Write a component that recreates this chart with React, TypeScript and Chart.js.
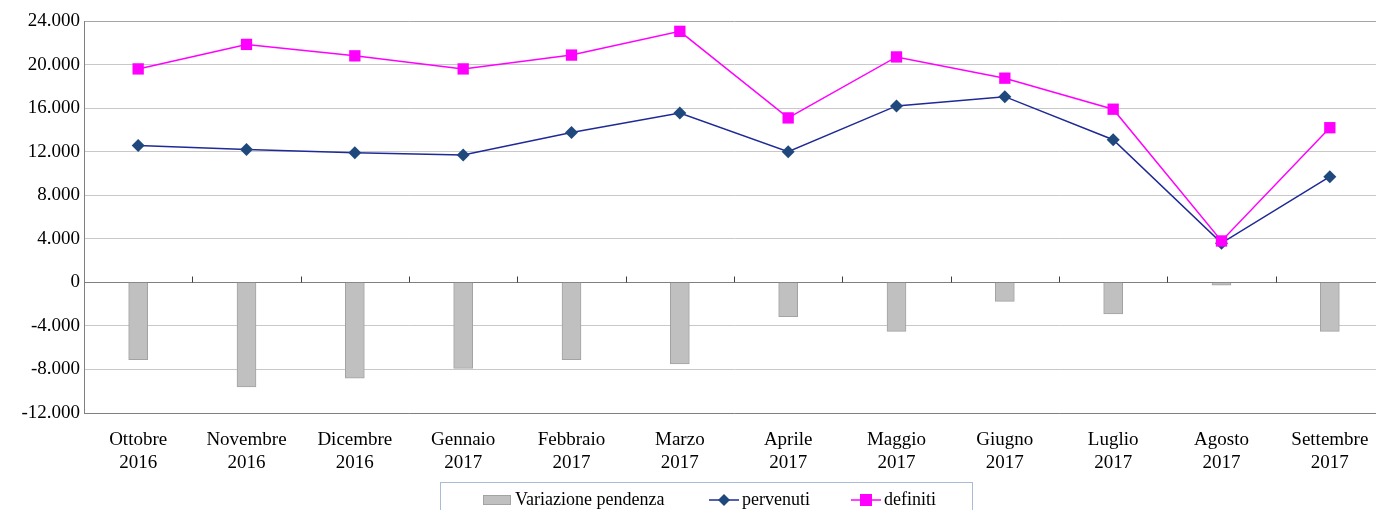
import { useEffect, useRef } from "react";
import { Chart, registerables } from "chart.js";

Chart.register(...registerables);

const FONT = "'Liberation Serif', 'Times New Roman', serif";

const months = ["Ottobre", "Novembre", "Dicembre", "Gennaio", "Febbraio", "Marzo", "Aprile", "Maggio", "Giugno", "Luglio", "Agosto", "Settembre"];
const years = ["2016", "2016", "2016", "2017", "2017", "2017", "2017", "2017", "2017", "2017", "2017", "2017"];

const variazionePendenza = [-7100, -9600, -8800, -7900, -7100, -7500, -3150, -4500, -1750, -2900, -250, -4500];
const pervenuti = [12570, 12200, 11900, 11700, 13750, 15550, 12000, 16200, 17050, 13100, 3600, 9700];
const definiti = [19600, 21850, 20800, 19600, 20870, 23050, 15100, 20700, 18750, 15900, 3800, 14200];

const yMin = -12000;
const yMax = 24000;
const yStep = 4000;

const seriesNames = ["Variazione pendenza", "pervenuti", "definiti"];

function fmt(v: number): string {
  const neg = v < 0;
  const s = Math.abs(Math.round(v)).toString().replace(/\B(?=(\d{3})+(?!\d))/g, ".");
  return (neg ? "-" : "") + s;
}

export default function App() {
  const ref = useRef<HTMLCanvasElement>(null);

  useEffect(() => {
    const canvas = ref.current!;

    const zeroTicks = {
      id: "zeroTicks",
      afterDatasetsDraw(chart: any) {
        const xs = chart.scales.x;
        const ys = chart.scales.y;
        const ctx = chart.ctx;
        const y0 = Math.round(ys.getPixelForValue(0)) + 0.5;
        const half = (xs.getPixelForValue(1) - xs.getPixelForValue(0)) / 2;
        ctx.save();
        ctx.strokeStyle = "#404040";
        ctx.lineWidth = 1;
        ctx.beginPath();
        for (let i = 1; i < months.length + 1; i++) {
          const x = Math.round(xs.getPixelForValue(i) - half) + 0.5;
          ctx.moveTo(x, y0);
          ctx.lineTo(x, y0 - 6);
        }
        ctx.stroke();
        ctx.restore();
      },
    };

    const legendBox = {
      id: "legendBox",
      afterDraw(chart: any) {
        const ctx = chart.ctx;
        const ds = chart.data.datasets;
        ctx.save();
        ctx.strokeStyle = "#a9bcd6";
        ctx.lineWidth = 1;
        ctx.strokeRect(440.5, 482.5, 532, 40);
        ctx.font = "18px " + FONT;
        ctx.fillStyle = "#000";
        ctx.textBaseline = "middle";
        const cy = 500;
        // bar swatch
        ctx.fillStyle = ds[0].backgroundColor;
        ctx.fillRect(483, 495, 28, 10);
        ctx.strokeStyle = ds[0].borderColor;
        ctx.strokeRect(483.5, 495.5, 27, 9);
        ctx.fillStyle = "#000";
        ctx.fillText(ds[0].label, 515, cy);
        // pervenuti
        ctx.strokeStyle = ds[1].borderColor;
        ctx.lineWidth = 1.5;
        ctx.beginPath();
        ctx.moveTo(709, cy);
        ctx.lineTo(739, cy);
        ctx.stroke();
        ctx.fillStyle = ds[1].pointBackgroundColor;
        ctx.beginPath();
        ctx.moveTo(724, cy - 6);
        ctx.lineTo(730, cy);
        ctx.lineTo(724, cy + 6);
        ctx.lineTo(718, cy);
        ctx.closePath();
        ctx.fill();
        ctx.fillStyle = "#000";
        ctx.fillText(ds[1].label, 742, cy);
        // definiti
        ctx.strokeStyle = ds[2].borderColor;
        ctx.beginPath();
        ctx.moveTo(851, cy);
        ctx.lineTo(881, cy);
        ctx.stroke();
        ctx.fillStyle = ds[2].pointBackgroundColor;
        ctx.fillRect(860, cy - 6, 12, 12);
        ctx.fillStyle = "#000";
        ctx.fillText(ds[2].label, 884, cy);
        ctx.restore();
      },
    };

    const chart = new Chart(canvas, {
      type: "bar",
      data: {
        labels: months.map((m, i) => [m, years[i]]),
        datasets: [
          {
            type: "bar",
            label: seriesNames[0],
            data: variazionePendenza,
            backgroundColor: "#c0c0c0",
            borderColor: "#a3a3a3",
            borderWidth: 1,
            barThickness: 19,
            order: 2,
          },
          {
            type: "line",
            label: seriesNames[1],
            data: pervenuti,
            borderColor: "#1f2a96",
            borderWidth: 1.5,
            pointStyle: "rectRot",
            pointRadius: 6.5,
            pointBackgroundColor: "#1f497d",
            pointBorderColor: "#1f497d",
            pointBorderWidth: 0,
            tension: 0,
            order: 1,
          },
          {
            type: "line",
            label: seriesNames[2],
            data: definiti,
            borderColor: "#ff00ff",
            borderWidth: 1.5,
            pointStyle: "rect",
            pointRadius: 8,
            pointBackgroundColor: "#ff00ff",
            pointBorderColor: "#ff00ff",
            pointBorderWidth: 0,
            tension: 0,
            order: 0,
          },
        ] as any,
      },
      options: {
        responsive: false,
        animation: false,
        events: [],
        layout: { padding: { top: 21, right: 6, left: 0, bottom: 0 } },
        plugins: {
          legend: { display: false },
          tooltip: { enabled: false },
        },
        scales: {
          x: {
            offset: true,
            grid: { display: true, drawOnChartArea: false, drawTicks: false, color: "rgba(0,0,0,0)" },
            border: { display: true, color: "#808080", width: 1 },
            ticks: {
              color: "#000",
              font: { family: FONT, size: 19 },
              padding: 16,
              maxRotation: 0,
              autoSkip: false,
            },
            afterFit(scale: any) {
              scale.height = 97;
            },
          },
          y: {
            min: yMin,
            max: yMax,
            grid: {
              drawTicks: false,
              color: (c: any) => (c.tick && c.tick.value === 0 ? "#808080" : c.tick && c.tick.value === yMax ? "#a6a6a6" : "#c8c8c8"),
              lineWidth: 1,
            },
            border: { display: true, color: "#808080", width: 1 },
            ticks: {
              stepSize: yStep,
              color: "#000",
              font: { family: FONT, size: 19 },
              padding: 4,
              callback: (v: any) => fmt(Number(v)),
            },
            afterFit(scale: any) {
              scale.width = 84;
            },
          },
        },
      },
      plugins: [zeroTicks, legendBox],
    } as any);

    return () => chart.destroy();
  }, []);

  return (
    <div style={{ position: "fixed", left: 0, top: 0, width: 1376, height: 510, overflow: "hidden", background: "#fff" }}>
      <canvas ref={ref} width={1392} height={510} style={{ width: 1392, height: 510, display: "block" }} />
    </div>
  );
}
